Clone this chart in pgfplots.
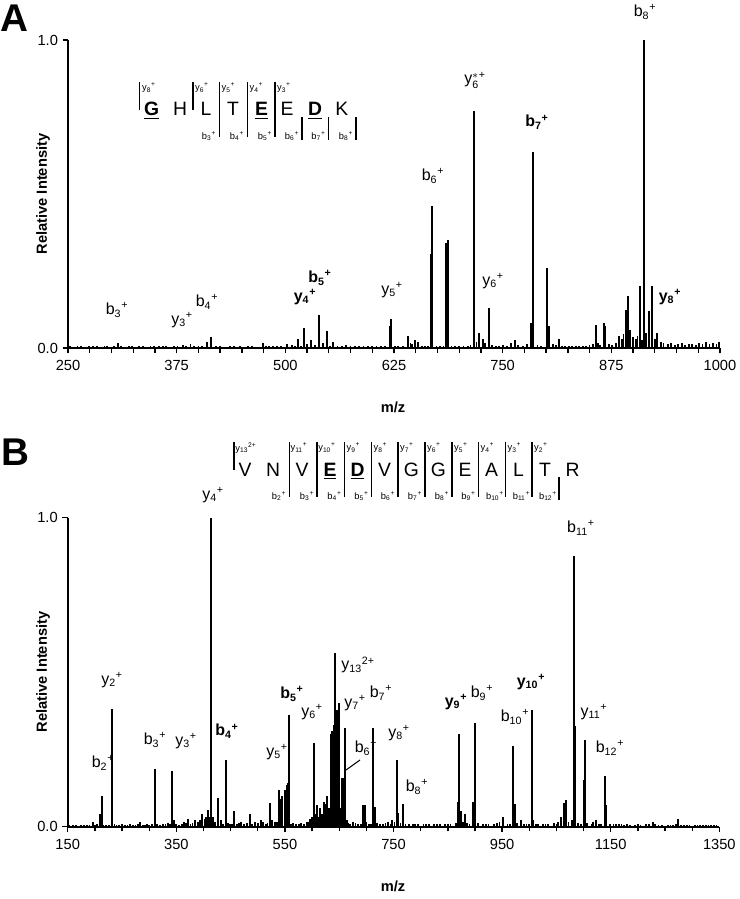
\documentclass[border=0pt]{standalone}
\usepackage{fontspec}
\setmainfont{Liberation Sans}
\usepackage{amsmath}
\usepackage{pgfplots}
\pgfplotsset{compat=1.18}

\newcommand{\ion}[3]{\mbox{#1$_{\text{#2}}$$^{\text{#3}}$}}

\pgfplotsset{msstyle/.style={
  scale only axis,
  anchor=south west,
  axis x line=bottom, axis y line=left,
  axis line style={-, line width=1.3pt},
  ymin=0, ymax=1,
  ytick={0,1}, yticklabels={0.0,1.0},
  tick align=outside,
  major tick length=4pt, minor tick length=3.5pt,
  tick style={line width=1pt, black},
  ticklabel style={font=\fontsize{11}{13}\selectfont},
  xticklabel shift=2pt,
  /pgf/number format/assume math mode=true,
  /pgf/number format/1000 sep={},
  clip=false,
}, peak/.style={ycomb, black, line width=1.5pt, mark=none},
noise/.style={ycomb, black, line width=1.3pt, mark=none}}

\pgfplotstableread{
mz int
307.5 0.016
409.5 0.02
415 0.036
514.6 0.03
521.5 0.066
530 0.025
538.7 0.107
547.6 0.055
555 0.02
620.5 0.07
621.9 0.095
640.7 0.04
649 0.025
653 0.02
667 0.305
669 0.46
685 0.34
687 0.35
716.7 0.77
723 0.05
727 0.03
734.7 0.13
764 0.025
782.5 0.08
784.5 0.636
800.6 0.26
803 0.07
814.5 0.03
857 0.075
866 0.08
868 0.07
884 0.04
891.5 0.125
894.5 0.17
897 0.06
903 0.03
908 0.2
912.6 1.0
915 0.05
918.7 0.12
921.4 0.2
928 0.05
932 0.02
}\peaksA

\pgfplotstableread{
mz int
252 .006
256 .004
261 .007
265 .005
270 .004
274 .006
279 .005
283 .008
288 .004
292 .005
295 .007
299 .004
303 .006
311 .005
316 .004
320 .005
324 .006
328 .004
332 .005
336 .005
340 .004
345 .006
349 .005
355 .008
359 .006
363 .005
368 .004
372 .006
376 .005
382 .010
386 .006
391 .012
395 .005
400 .008
404 .006
420 .006
425 .005
430 .004
436 .008
441 .005
448 .008
452 .004
457 .006
462 .005
467 .004
474.7 .015
478 .006
481.6 .008
486 .005
490 .007
495 .005
501.6 .012
507.4 .010
511 .006
518 .008
525 .012
534 .010
543 .015
551 .008
560 .008
565 .006
570 .010
575 .007
580 .006
585 .008
590 .006
595 .007
600 .005
605 .008
610 .006
615 .007
626 .006
630 .005
635 .008
644 .015
646 .012
657 .006
661 .008
664 .006
674 .007
678 .006
682 .005
691 .007
695 .006
700 .008
705 .006
710 .007
713 .010
720 .020
730 .015
738 .010
742 .008
746 .006
750 .010
755 .008
760 .015
768 .010
773 .008
778 .012
790 .010
794 .008
808 .012
811 .010
818 .008
822 .006
826 .007
830 .008
834 .006
838 .008
842 .007
846 .008
850 .010
854 .012
860 .015
862 .010
872 .012
876 .010
880 .015
887 .030
889 .045
900 .035
905 .040
910 .025
925 .030
935 .015
940 .012
944 .015
948 .010
952 .012
956 .015
960 .010
964 .014
968 .012
972 .010
976 .016
980 .012
984 .018
988 .013
992 .015
996 .012
999 .018
}\noiseA

\pgfplotstableread{
mz int
196 0.015
209 0.04
212.6 0.10
231 0.38
250 0.01
265 0.008
283.5 0.015
296 0.01
311 0.186
325 0.008
335 0.012
342.6 0.18
345 0.02
365 0.015
372 0.025
385 0.02
398 0.04
405 0.03
409 0.055
414.5 1.0
418 0.03
426 0.092
432 0.02
441.6 0.216
448 0.01
457 0.05
470 0.015
485 0.04
495 0.015
505 0.02
515 0.01
522 0.078
527 0.02
532 0.015
539.5 0.12
542 0.09
545 0.10
549.3 0.12
553 0.135
555.5 0.14
557.3 0.36
565 0.012
575 0.01
590 0.015
597 0.025
600 0.03
603.4 0.27
606 0.04
609.7 0.07
614.5 0.06
618 0.04
622 0.08
625 0.075
628 0.10
632 0.05
634.8 0.30
637.4 0.31
640 0.33
641.6 0.561
643.5 0.35
646.6 0.378
650.3 0.40
653 0.06
655.8 0.157
657.5 0.157
660.7 0.32
665 0.02
675 0.015
685 0.01
694.6 0.07
697 0.07
705 0.01
712.3 0.32
715.5 0.065
725 0.01
740 0.015
748 0.02
755.9 0.217
758.5 0.045
768 0.075
785 0.01
868 0.08
871 0.30
875 0.05
881.7 0.04
897 0.08
900 0.336
952 0.03
970.7 0.26
973 0.075
984.8 0.02
1004.5 0.378
1007 0.02
1053.5 0.015
1058 0.03
1064 0.078
1067.7 0.087
1078 0.02
1083 0.875
1085 0.325
1100 0.15
1102.7 0.28
1123 0.02
1140 0.165
1142 0.07
1166 0.01
1227 0.015
1274.5 0.025
}\peaksB

\pgfplotstableread{
mz int
152 .004
156 .003
160 .005
165 .004
170 .003
175 .004
180 .005
185 .004
190 .006
200 .005
204 .008
216 .006
220 .005
226 .006
236 .008
240 .006
245 .005
255 .006
260 .005
270 .006
275 .005
280 .008
288 .006
292 .005
300 .006
305 .008
315 .010
320 .006
330 .008
338 .010
350 .008
355 .006
360 .010
368 .012
376 .010
380 .012
390 .015
394 .020
402 .025
411 .030
421 .015
436 .010
445 .012
452 .008
462 .010
466 .012
475 .010
480 .012
490 .010
500 .012
510 .015
518 .012
536 .015
561 .010
570 .010
580 .012
585 .010
593 .015
612 .030
620 .040
631 .060
667 .012
670 .010
680 .012
690 .010
700 .015
708 .010
720 .012
730 .010
735 .012
745 .010
752 .015
763 .012
772 .010
778 .008
790 .008
795 .010
805 .008
810 .010
815 .008
825 .008
830 .010
835 .008
845 .010
850 .008
855 .010
865 .012
878 .015
885 .012
890 .010
905 .012
915 .008
920 .010
925 .008
935 .010
940 .012
945 .015
960 .010
965 .010
978 .012
990 .010
995 .008
1000 .010
1012 .010
1016 .008
1025 .010
1030 .008
1035 .010
1045 .012
1050 .010
1072 .015
1090 .012
1095 .010
1106 .012
1115 .010
1118 .015
1128 .010
1132 .008
1148 .010
1155 .008
1160 .010
1170 .008
1175 .006
1180 .008
1185 .006
1195 .006
1200 .008
1205 .006
1215 .008
1220 .010
1232 .008
1238 .006
1245 .006
1255 .005
1260 .006
1265 .005
1270 .008
1280 .006
1285 .005
1290 .006
1295 .004
1305 .005
1310 .004
1315 .005
1320 .004
1325 .005
1330 .004
1335 .005
1340 .004
1345 .005
}\noiseB

\begin{document}
\begin{tikzpicture}
\useasboundingbox (0pt,0pt) rectangle (554.25pt,-674.25pt);

% ---------------- Panel A ----------------
\begin{axis}[msstyle, at={(51pt,-261pt)}, width=489pt, height=231pt,
  xmin=250, xmax=1000, xtick={250,375,...,1000}, minor x tick num=4]
\addplot[noise] table[x=mz,y=int] {\noiseA};
\addplot[peak] table[x=mz,y=int] {\peaksA};
\end{axis}

% ---------------- Panel B ----------------
\begin{axis}[msstyle, at={(50.8pt,-620pt)}, width=488.7pt, height=231.75pt,
  xmin=150, xmax=1350, xtick={150,350,...,1350}, minor x tick num=3]
\addplot[noise] table[x=mz,y=int] {\noiseB};
\addplot[peak] table[x=mz,y=int] {\peaksB};
\end{axis}

\begin{scope}[x=0.75pt,y=-0.75pt]
% panel letters
\node[font=\fontsize{29}{30}\selectfont\bfseries] at (14,18) {A};
\node[font=\fontsize{29}{30}\selectfont\bfseries] at (15,452) {B};
% axis titles
\node[rotate=90, font=\fontsize{11}{13}\selectfont\bfseries] at (43,194) {Relative Intensity};
\node[rotate=90, font=\fontsize{11}{13}\selectfont\bfseries] at (43,672) {Relative Intensity};
\node[font=\fontsize{11}{13}\selectfont\bfseries] at (393,407) {m/z};
\node[font=\fontsize{11}{13}\selectfont\bfseries] at (393,886) {m/z};

% peak labels A
\begin{scope}[every node/.style={font=\fontsize{12}{14}\selectfont, inner sep=0pt}]
\node at (117,310) {\ion{b}{3}{+}};
\node at (182,320) {\ion{y}{3}{+}};
\node at (207,302) {\ion{b}{4}{+}};
\node at (305,297) {\textbf{\ion{y}{4}{+}}};
\node at (320,278) {\textbf{\ion{b}{5}{+}}};
\node at (392,290) {\ion{y}{5}{+}};
\node at (433,176) {\ion{b}{6}{+}};
\node at (475,80) {\mbox{y$^{*}_{\text{6}}$$^{\text{+}}$}};
\node at (493,281) {\ion{y}{6}{+}};
\node at (537,122) {\textbf{\ion{b}{7}{+}}};
\node at (645,12) {\ion{b}{8}{+}};
\node at (670,297) {\textbf{\ion{y}{8}{+}}};

% peak labels B
\node at (213,495) {\ion{y}{4}{+}};
\node at (112,680) {\ion{y}{2}{+}};
\node at (103,763) {\ion{b}{2}{+}};
\node at (155,740) {\ion{b}{3}{+}};
\node at (186,741) {\ion{y}{3}{+}};
\node at (227,731) {\textbf{\ion{b}{4}{+}}};
\node at (277,752) {\ion{y}{5}{+}};
\node at (292,694) {\textbf{\ion{b}{5}{+}}};
\node at (312,712) {\ion{y}{6}{+}};
\node at (358,665) {\ion{y}{13}{2+}};
\node at (355,703) {\ion{y}{7}{+}};
\node at (381,693) {\ion{b}{7}{+}};
\node at (366,748) {\ion{b}{6}{+}};
\node at (399,733) {\ion{y}{8}{+}};
\node at (417,787) {\ion{b}{8}{+}};
\node at (456,702) {\textbf{\ion{y}{9}{+}}};
\node at (482,693) {\ion{b}{9}{+}};
\node at (515,717) {\ion{b}{10}{+}};
\node at (531,682) {\textbf{\ion{y}{10}{+}}};
\node at (581,528) {\ion{b}{11}{+}};
\node at (594,712) {\ion{y}{11}{+}};
\node at (610,748) {\ion{b}{12}{+}};
\end{scope}
\draw[line width=0.8pt] (346,770) -- (360,760);

% peptide A
\begin{scope}[line width=1.2pt]
\draw (139.3,82)--(139.3,110);
\draw (192.7,82)--(192.7,110);
\foreach \x in {219.3,247.3,275} \draw (\x,82)--(\x,137);
\foreach \x in {302,328.3,356} \draw (\x,117)--(\x,140);
\end{scope}
\begin{scope}[every node/.style={font=\fontsize{14.5}{16}\selectfont, anchor=base, inner sep=0pt}]
\node at (151.7,115.5) {\underline{\textbf{G}}};
\node at (180,115.5) {H};
\node at (206,115.5) {L};
\node at (233,115.5) {T};
\node at (261.5,115.5) {\underline{\textbf{E}}};
\node at (287,115.5) {E};
\node at (315,115.5) {\underline{\textbf{D}}};
\node at (341.7,115.5) {K};
\end{scope}
\begin{scope}[every node/.style={font=\fontsize{7}{8}\selectfont, inner sep=0pt}]
\node at (149,88) {\ion{y}{8}{+}};
\node at (202,88) {\ion{y}{6}{+}};
\node at (228.5,88) {\ion{y}{5}{+}};
\node at (256.5,88) {\ion{y}{4}{+}};
\node at (284,88) {\ion{y}{3}{+}};
\node at (209,136) {\ion{b}{3}{+}};
\node at (237,136) {\ion{b}{4}{+}};
\node at (265,136) {\ion{b}{5}{+}};
\node at (292,136) {\ion{b}{6}{+}};
\node at (318.5,136) {\ion{b}{7}{+}};
\node at (346,136) {\ion{b}{8}{+}};
\end{scope}

% peptide B
\begin{scope}[line width=1.2pt]
\draw (234,442)--(234,470);
\foreach \x in {289.3,317,344.5,371.5,398,425,452,478.5,505.5,532} \draw (\x,442)--(\x,497);
\draw (559,477)--(559,500);
\end{scope}
\begin{scope}[every node/.style={font=\fontsize{14.5}{16}\selectfont, anchor=base, inner sep=0pt}]
\node at (245,476) {V};
\node at (273,476) {N};
\node at (302,476) {V};
\node at (330,476) {\underline{\textbf{E}}};
\node at (357.5,476) {\underline{\textbf{D}}};
\node at (384.5,476) {V};
\node at (411.5,476) {G};
\node at (438.5,476) {G};
\node at (465,476) {E};
\node at (491.5,476) {A};
\node at (518.5,476) {L};
\node at (545,476) {T};
\node at (572.5,476) {R};
\end{scope}
\begin{scope}[every node/.style={font=\fontsize{7}{8}\selectfont, inner sep=0pt}]
\node at (246,448) {\ion{y}{13}{2+}};
\node at (299,448) {\ion{y}{11}{+}};
\node at (327,448) {\ion{y}{10}{+}};
\node at (353.5,448) {\ion{y}{9}{+}};
\node at (380.5,448) {\ion{y}{8}{+}};
\node at (407,448) {\ion{y}{7}{+}};
\node at (434,448) {\ion{y}{6}{+}};
\node at (461,448) {\ion{y}{5}{+}};
\node at (487.5,448) {\ion{y}{4}{+}};
\node at (514.5,448) {\ion{y}{3}{+}};
\node at (541,448) {\ion{y}{2}{+}};
\node at (279,496) {\ion{b}{2}{+}};
\node at (307,496) {\ion{b}{3}{+}};
\node at (334.5,496) {\ion{b}{4}{+}};
\node at (361.5,496) {\ion{b}{5}{+}};
\node at (388,496) {\ion{b}{6}{+}};
\node at (415,496) {\ion{b}{7}{+}};
\node at (442,496) {\ion{b}{8}{+}};
\node at (468.5,496) {\ion{b}{9}{+}};
\node at (495,496) {\ion{b}{10}{+}};
\node at (521.5,496) {\ion{b}{11}{+}};
\node at (548,496) {\ion{b}{12}{+}};
\end{scope}
\end{scope}
\end{tikzpicture}
\end{document}
